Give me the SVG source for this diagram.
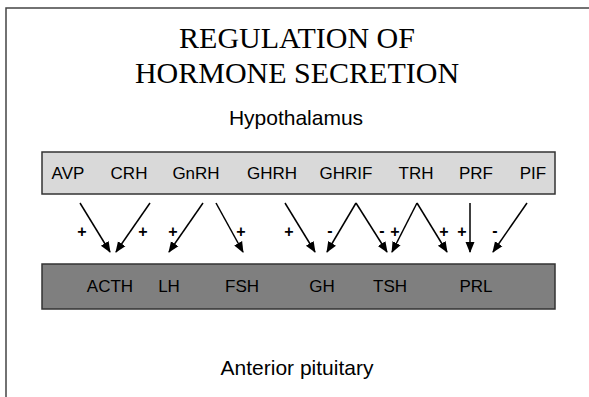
<svg xmlns="http://www.w3.org/2000/svg" width="589" height="397" viewBox="0 0 589 397">
<defs>
<style>
.title{font-family:"Liberation Serif","Times New Roman",serif;font-size:30px;fill:#000;text-anchor:middle}
.head{font-family:"Liberation Sans",Arial,sans-serif;font-size:21px;fill:#000;text-anchor:middle}
.lbl{font-family:"Liberation Sans",Arial,sans-serif;font-size:17px;fill:#000;text-anchor:middle}
.sign{font-family:"Liberation Sans",Arial,sans-serif;font-size:16px;font-weight:bold;fill:#000;text-anchor:middle}
.frame{stroke:#444;stroke-width:1.5;fill:none}
.box{stroke:#333;stroke-width:1.5}
.arr{stroke:#000;stroke-width:1.5;fill:none;marker-end:url(#ah)}
</style>
<marker id="ah" markerWidth="11" markerHeight="11" refX="10" refY="5" orient="auto" markerUnits="userSpaceOnUse" viewBox="0 0 11 10">
<path d="M0,0.5 L11,5 L0,9.5 Z" fill="#000"/>
</marker>
</defs>
<rect width="589" height="397" fill="#fff"/>
<path class="frame" d="M6,397 L6,8 L589,8"/>
<g id="title">
<text class="title" x="297" y="48">REGULATION OF</text>
<text class="title" x="297" y="83">HORMONE SECRETION</text>
</g>
<text class="head" x="296" y="125">Hypothalamus</text>
<g id="hypothalamus">
<rect class="box" x="42" y="152" width="513" height="42" fill="#d9d9d9"/>
<text class="lbl" x="68" y="179">AVP</text>
<text class="lbl" x="129" y="179">CRH</text>
<text class="lbl" x="196" y="179">GnRH</text>
<text class="lbl" x="272" y="179">GHRH</text>
<text class="lbl" x="346" y="179">GHRIF</text>
<text class="lbl" x="416" y="179">TRH</text>
<text class="lbl" x="476" y="179">PRF</text>
<text class="lbl" x="533" y="179">PIF</text>
</g>
<g id="pituitary">
<rect class="box" x="42" y="264" width="513" height="45" fill="#7f7f7f"/>
<text class="lbl" x="110" y="292">ACTH</text>
<text class="lbl" x="169" y="292">LH</text>
<text class="lbl" x="242" y="292">FSH</text>
<text class="lbl" x="322" y="292">GH</text>
<text class="lbl" x="390" y="292">TSH</text>
<text class="lbl" x="476" y="292">PRL</text>
</g>
<g id="connectors">
<path class="arr" d="M80,203 L110,252"/>
<path class="arr" d="M150,203 L116,252"/>
<path class="arr" d="M203,203 L169,252"/>
<path class="arr" d="M216,203 L243,252"/>
<path class="arr" d="M285,203 L315,252"/>
<path class="arr" d="M356,203 L327,252"/>
<path class="arr" d="M356,203 L387,252"/>
<path class="arr" d="M417,203 L392,252"/>
<path class="arr" d="M417,203 L447,252"/>
<path class="arr" d="M470,203 L470,252"/>
<path class="arr" d="M527,203 L493,252"/>
</g>
<g id="signs">
<text class="sign" x="82" y="237">+</text>
<text class="sign" x="143" y="237">+</text>
<text class="sign" x="173" y="237">+</text>
<text class="sign" x="241" y="237">+</text>
<text class="sign" x="289" y="237">+</text>
<text class="sign" x="330" y="236">-</text>
<text class="sign" x="382" y="236">-</text>
<text class="sign" x="395" y="237">+</text>
<text class="sign" x="444" y="237">+</text>
<text class="sign" x="462" y="237">+</text>
<text class="sign" x="495" y="236">-</text>
</g>
<text class="head" x="297" y="375">Anterior pituitary</text>
</svg>
